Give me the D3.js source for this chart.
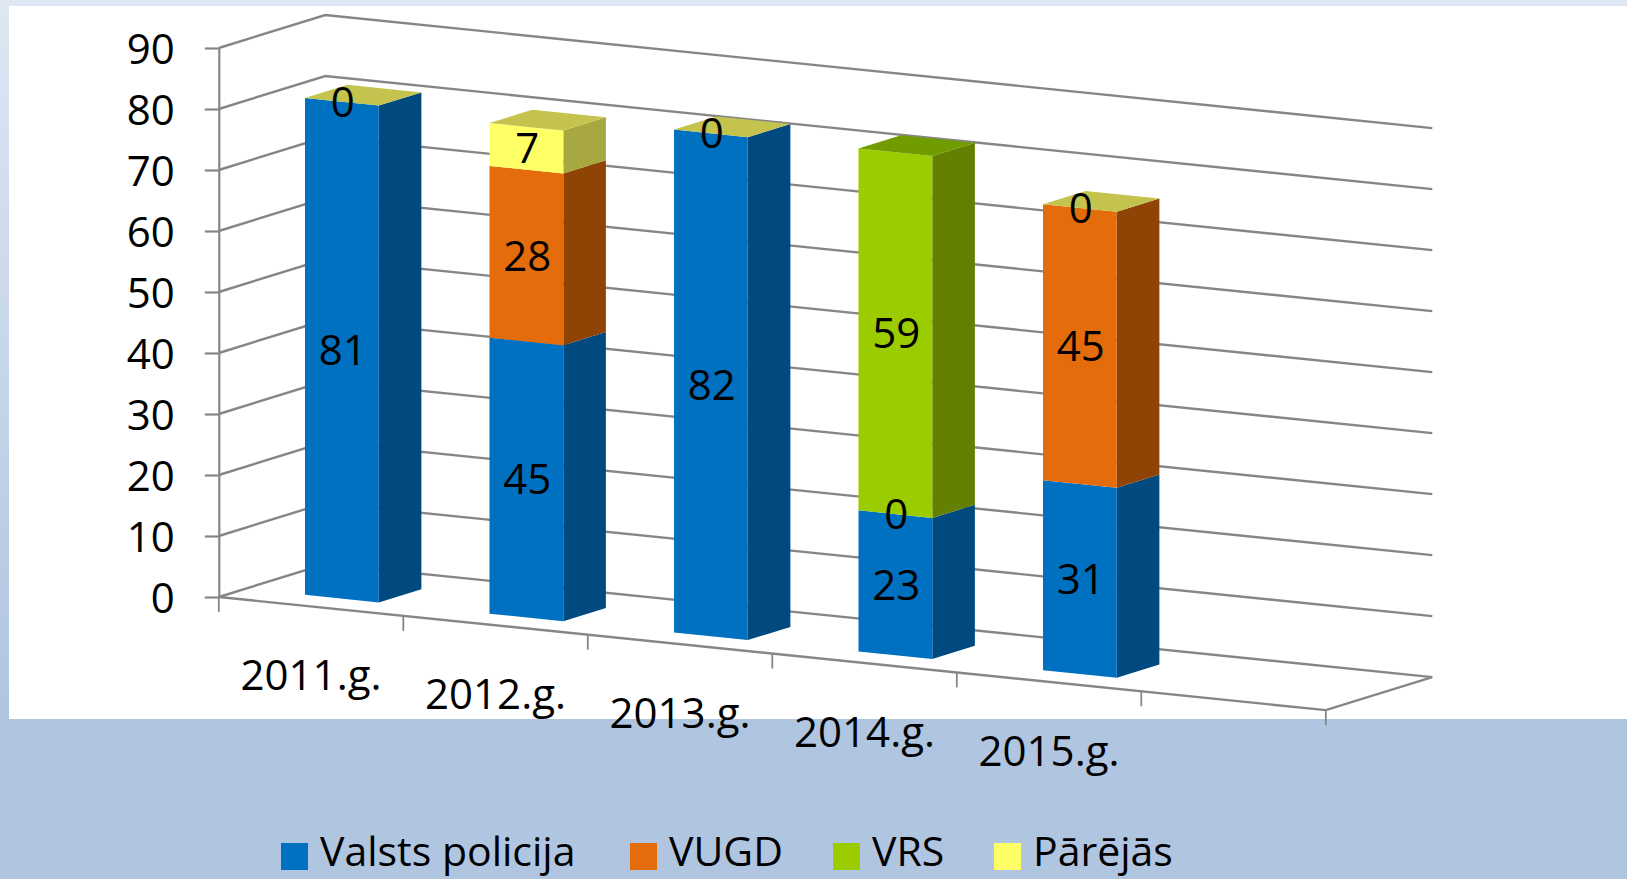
<!DOCTYPE html>
<html lang="lv">
<head>
<meta charset="utf-8">
<script src="https://d3js.org/d3.v7.min.js"></script>
<style>
  html, body { margin: 0; padding: 0; background: #b0c5e0; overflow: hidden; }
  svg { display: block; }
  text { font-family: "Open Sans", sans-serif; fill: #000; }
</style>
</head>
<body>
<svg id="chart" width="1627" height="879"></svg>
<script>
// data
var categories = ["2011.g.", "2012.g.", "2013.g.", "2014.g.", "2015.g."];
var seriesNames = ["Valsts policija", "VUGD", "VRS", "Pārējās"];
var valstsPolicija = [81, 45, 82, 23, 31];
var vugd = [null, 28, null, 0, 45];
var vrs = [null, null, null, 59, null];
var parejas = [0, 7, 0, null, 0];
var yTicks = [0, 10, 20, 30, 40, 50, 60, 70, 80, 90];

var seriesValues = [valstsPolicija, vugd, vrs, parejas];
var frontColors = ["#0070c0", "#e46c0a", "#9acc00", "#ffff66"];
var sideColors = ["#004a80", "#8f4405", "#638000", "#a8a840"];
var topColors = ["#004a80", "#8f4405", "#709c00", "#c3c34d"];
var legendX = [281, 630, 833, 994];

var svg = d3.select("#chart");

// background
var grad = svg.append("defs").append("linearGradient")
  .attr("id", "bg").attr("x1", 0).attr("y1", 0).attr("x2", 0).attr("y2", 1);
grad.append("stop").attr("offset", 0).attr("stop-color", "#dee7f3");
grad.append("stop").attr("offset", 1).attr("stop-color", "#b0c5e0");
svg.append("rect").attr("width", 1627).attr("height", 719).attr("fill", "url(#bg)");
svg.append("rect").attr("y", 719).attr("width", 1627).attr("height", 160).attr("fill", "#b0c5e0");
svg.append("rect").attr("x", 9).attr("y", 6).attr("width", 1618).attr("height", 713).attr("fill", "#fff");

// scales, the 3d box is a plain oblique projection
var originX = 218.8;
var floorSlope = 0.1022;
var y = d3.scaleLinear().domain([0, 90]).range([597, 48]);
// bars run a touch taller than the grid in the original
var barY = d3.scaleLinear().domain([0, 90]).range([597, 45]);
var x = d3.scaleBand().domain(categories.concat([""])).range([0, 1107])
  .paddingInner(0.6).paddingOuter(0.3).align(0.538);
var depth = d3.scaleLinear().domain([0, 1]).range([0, 1]);

function project(a, v, w, scale) {
  var d = depth(w);
  return [originX + a + 106.5 * d, (scale || y)(v) + a * floorSlope - 33 * d];
}
function points(list) {
  return list.map(function(p) { return p.join(","); }).join(" ");
}

var axisColor = "#868686";

// grid lines on the side and back wall
svg.append("g").selectAll("polyline")
  .data(yTicks)
  .enter().append("polyline")
  .attr("fill", "none")
  .attr("stroke", axisColor)
  .attr("stroke-width", 2.4)
  .attr("points", function(d) {
    return points([project(0, d, 0), project(0, d, 1), project(1107, d, 1)]);
  });

// floor front edge and right edge
svg.append("polyline")
  .attr("fill", "none")
  .attr("stroke", axisColor)
  .attr("stroke-width", 2.4)
  .attr("points", points([project(0, 0, 0), project(1107, 0, 0), project(1107, 0, 1)]));

// category ticks
svg.append("g").selectAll("line")
  .data(d3.range(categories.length + 2))
  .enter().append("line")
  .attr("stroke", axisColor)
  .attr("stroke-width", 1.8)
  .attr("x1", function(i) { return project(i * x.step(), 0, 0)[0]; })
  .attr("x2", function(i) { return project(i * x.step(), 0, 0)[0]; })
  .attr("y1", function(i) { return project(i * x.step(), 0, 0)[1]; })
  .attr("y2", function(i) { return project(i * x.step(), 0, 0)[1] + 15; });

// value axis
var yAxis = svg.append("g")
  .attr("transform", "translate(" + originX + ",0)")
  .call(d3.axisLeft(y).tickValues(yTicks).tickSize(14).tickSizeOuter(0).tickPadding(30));
yAxis.selectAll("path, line").attr("stroke", axisColor).attr("stroke-width", 2.2);
yAxis.selectAll("text").attr("font-size", 42).attr("font-family", "Open Sans").attr("fill", "#000").attr("dy", "0.36em");

// category labels
svg.append("g").selectAll("text")
  .data(categories)
  .enter().append("text")
  .attr("font-size", 42)
  .attr("text-anchor", "middle")
  .attr("x", function(d, i) { return project((i + 0.5) * x.step(), 0, 0)[0]; })
  .attr("y", function(d, i) { return project((i + 0.5) * x.step(), 0, 0)[1] + 84; })
  .text(function(d) { return d; });

// stacked bars
var rows = categories.map(function(c, i) {
  var row = { category: c };
  seriesNames.forEach(function(s, k) { row[s] = seriesValues[k][i]; });
  return row;
});
var stacked = d3.stack().keys(seriesNames)(rows);
var w0 = 0.25, w1 = 0.65;
var labels = [];

categories.forEach(function(c, i) {
  var a0 = x(c), a1 = a0 + x.bandwidth();
  var bar = svg.append("g").attr("class", "bar");
  var segs = [];
  seriesNames.forEach(function(s, k) {
    if (seriesValues[k][i] !== null) {
      segs.push({ k: k, v: seriesValues[k][i], lo: stacked[k][i][0], hi: stacked[k][i][1] });
    }
  });
  segs.forEach(function(d, j) {
    bar.append("polygon").attr("fill", sideColors[d.k])
      .attr("points", points([project(a1, d.lo, w0, barY), project(a1, d.lo, w1, barY), project(a1, d.hi, w1, barY), project(a1, d.hi, w0, barY)]));
    bar.append("polygon").attr("fill", frontColors[d.k])
      .attr("points", points([project(a0, d.lo, w0, barY), project(a1, d.lo, w0, barY), project(a1, d.hi, w0, barY), project(a0, d.hi, w0, barY)]));
    if (j === segs.length - 1) {
      bar.append("polygon").attr("fill", topColors[d.k])
        .attr("points", points([project(a0, d.hi, w0, barY), project(a1, d.hi, w0, barY), project(a1, d.hi, w1, barY), project(a0, d.hi, w1, barY)]));
    }
    labels.push({ a: (a0 + a1) / 2, v: (d.lo + d.hi) / 2, text: d.v });
  });
});

// value labels go on top of all bars
svg.append("g").selectAll("text")
  .data(labels)
  .enter().append("text")
  .attr("font-size", 42)
  .attr("text-anchor", "middle")
  .attr("x", function(d) { return project(d.a, d.v, w0, barY)[0] + 1; })
  .attr("y", function(d) { return project(d.a, d.v, w0, barY)[1] + 15; })
  .text(function(d) { return d.text; });

// legend
var legend = svg.append("g").selectAll("g")
  .data(seriesNames)
  .enter().append("g")
  .attr("transform", function(d, i) { return "translate(" + legendX[i] + ",843)"; });
legend.append("rect").attr("width", 27).attr("height", 27)
  .attr("fill", function(d, i) { return frontColors[i]; });
legend.append("text").attr("x", 39).attr("y", 23).attr("font-size", 41)
  .text(function(d) { return d; });
</script>
</body>
</html>
